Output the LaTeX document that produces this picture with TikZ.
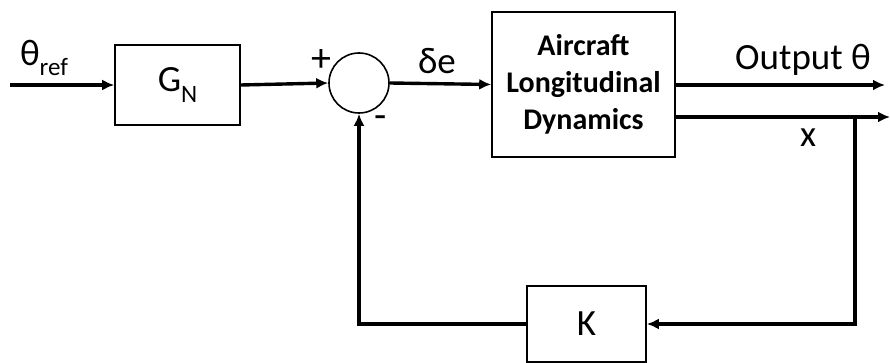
\documentclass[tikz,border=0pt]{standalone}
\usepackage{fontspec}
\setmainfont{Carlito}
\usepackage{tikz}
\usetikzlibrary{arrows.meta}

\newcommand{\lowtext}[1]{\raisebox{-0.28em}{\fontsize{25}{25}\selectfont #1}}

\begin{document}
\begin{tikzpicture}[
				      x=1pt, y=-1pt,
				      every node/.style = {font=\fontsize{37}{40}\selectfont, inner sep=0pt},
				      block/.style = {shape=rectangle, draw, line width=1.6pt, fill=white},
				      junction/.style = {shape=circle, draw, line width=1.6pt, minimum size=60pt},
				      signal/.style = {line width=3.4pt, -{Latex[length=12pt,width=11pt]}},
				      wire/.style = {line width=3.4pt}
			      ]
			      \useasboundingbox (0,0) rectangle (890,363);

			      % blocks
			      \node[block, minimum width=125pt, minimum height=80pt] (gn) at (177.5,85) {G\lowtext{N}};
			      \node[junction] (sum) at (359,83) {};
			      \node[block, minimum width=183pt, minimum height=145pt,
				      font=\fontsize{30}{37}\selectfont\bfseries, align=center] (plant) at (583.5,84.5)
				      {Aircraft\\Longitudinal\\Dynamics};
			      \node[block, minimum width=119pt, minimum height=76pt] (kbox) at (586.5,324) {K};

			      % free ends
			      \coordinate (in) at (10,85);
			      \coordinate (out) at (885,85);
			      \coordinate (xout) at (890,117);
			      \coordinate (br) at (855,117);

			      % forward path
			      \draw[signal] (in) -- (gn.west);
			      \draw[signal] (gn.east) -- (sum.west);
			      \draw[signal] (sum.east) -- (plant.west);
			      \draw[signal] (plant.east |- out) -- (out);
			      \draw[signal] (plant.east |- xout) -- (xout);

			      % feedback
			      \draw[signal] (br) |- (kbox.east);
			      \draw[signal] (kbox.west) -| (sum.south);

			      % labels
			      \node (lref) at (44,58) {θ\lowtext{ref}};
			      \node[font=\fontsize{40}{40}\selectfont] (lplus) at (321,61) {+};
			      \node[font=\fontsize{40}{40}\selectfont] (lminus) at (381,122) {-};
			      \node (lde) at (437,61) {δe};
			      \node (lout) at (803,60) {Output θ};
			      \node (lx) at (808,138) {x};
		      \end{tikzpicture}
\end{document}
